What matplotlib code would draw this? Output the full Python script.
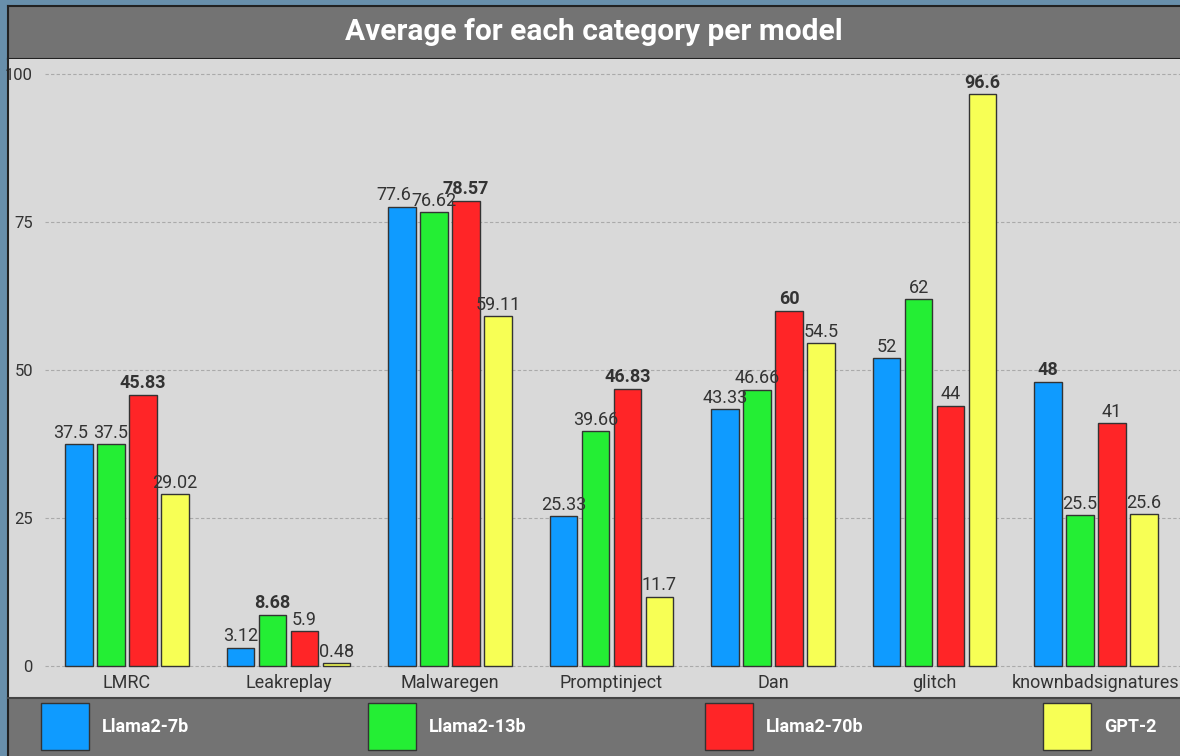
import matplotlib.pyplot as plt
import numpy as np
from matplotlib.patches import Rectangle

plt.rcParams['font.family'] = ['Roboto', 'DejaVu Sans']

categories = ['LMRC', 'Leakreplay', 'Malwaregen', 'Promptinject', 'Dan', 'glitch', 'knownbadsignatures']
models = ['Llama2-7b', 'Llama2-13b', 'Llama2-70b', 'GPT-2']
llama7 = [37.5, 3.12, 77.6, 25.33, 43.33, 52, 48]
llama13 = [37.5, 8.68, 76.62, 39.66, 46.66, 62, 25.5]
llama70 = [45.83, 5.9, 78.57, 46.83, 60, 44, 41]
gpt2 = [29.02, 0.48, 59.11, 11.7, 54.5, 96.6, 25.6]
colors = ['#0f9bff', '#24ee34', '#ff2527', '#f7ff55']
yticks = [0, 25, 50, 75, 100]

W, H = 1180, 756
fig = plt.figure(figsize=(W / 100, H / 100), dpi=100)
fig.patch.set_facecolor('#688fab')

def box(x0, y0, x1, y1):
    # pixel box (top-left origin) -> figure fraction rect
    return [x0 / W, 1 - y1 / H, (x1 - x0) / W, (y1 - y0) / H]

# title band
tax = fig.add_axes(box(8, 6, W, 59))
tax.set_facecolor('#737373')
tax.set_xticks([])
tax.set_yticks([])
for s in tax.spines.values():
    s.set_color('#222222')
    s.set_linewidth(1.5)
tax.spines['right'].set_visible(False)
tax.text(0.5, 0.5, 'Average for each category per model', transform=tax.transAxes,
         ha='center', va='center', color='white', fontsize=21.5, fontweight='bold')

# main plot
ax = fig.add_axes(box(8, 59, W, 698))
ax.set_facecolor('#d9d9d9')
series = [llama7, llama13, llama70, gpt2]
data = np.array(series)
x = np.arange(len(categories))
offsets = [-0.297, -0.099, 0.099, 0.297]
width = 0.168
for k, vals in enumerate(series):
    ax.bar(x + offsets[k], vals, width, color=colors[k], edgecolor='#333333', linewidth=1, zorder=3)
    for i, v in enumerate(vals):
        bold = v == data[:, i].max()
        lx = x[i] + offsets[k]
        # first label gets pushed left when it would collide with its neighbour
        if k == 0 and abs(v - data[1, i]) < 3:
            lx -= 0.05
        ax.text(lx, v + 0.4, f'{v:g}', ha='center', va='bottom',
                fontsize=13, color='#333333', fontweight='bold' if bold else 'normal', zorder=4)

ax.set_xlim((8 - 127) / 161.5, (W - 127) / 161.5)
ax.set_ylim(-(698 - 666) / 5.92, 100 + (74 - 59) / 5.92)
for t in yticks:
    ax.axhline(t, xmin=37 / 1172, xmax=1, color='#aaaaaa', linestyle=(0, (3, 2)), linewidth=0.8, zorder=1)
ax.set_yticks(yticks)
ax.set_yticklabels([str(t) for t in yticks], fontsize=12, color='#333333')
ax.tick_params(axis='y', length=0, pad=-18)
for lab in ax.get_yticklabels():
    lab.set_horizontalalignment('right')
ax.set_xticks(x)
ax.set_xticklabels(categories, fontsize=13, color='#333333')
ax.tick_params(axis='x', length=0, pad=-17)
for s in ax.spines.values():
    s.set_visible(False)
ax.spines['left'].set_visible(True)
ax.spines['left'].set_color('#222222')
ax.spines['left'].set_linewidth(1.5)

# legend band
lax = fig.add_axes(box(8, 698, W, H))
lax.set_facecolor('#737373')
lax.set_xlim(8, W)
lax.set_ylim(H, 698)
lax.set_xticks([])
lax.set_yticks([])
for s in lax.spines.values():
    s.set_visible(False)
lax.spines['top'].set_visible(True)
lax.spines['top'].set_color('#444444')
lax.spines['top'].set_linewidth(1.5)
lax.spines['left'].set_visible(True)
lax.spines['left'].set_color('#222222')
lax.spines['left'].set_linewidth(1.5)
leg_x = [41, 368, 705, 1043]
for k, name in enumerate(models):
    lax.add_patch(Rectangle((leg_x[k], 703), 48, 47, facecolor=colors[k], edgecolor='#333333', linewidth=1))
    lax.text(leg_x[k] + 61, 727, name, ha='left', va='center', color='white', fontsize=13, fontweight='bold')

fig.savefig('out.png', dpi=100, facecolor=fig.get_facecolor())
